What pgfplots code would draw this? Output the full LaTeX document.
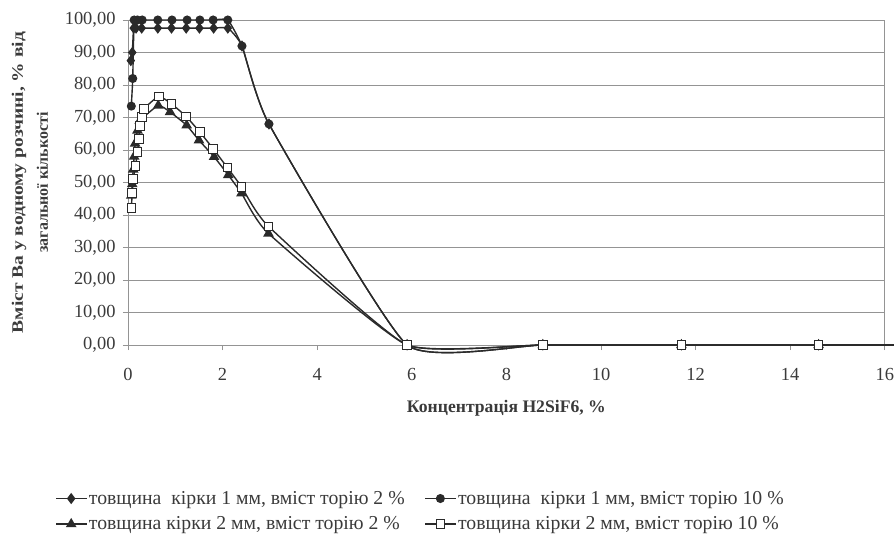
\documentclass[border=0pt]{standalone}
\usepackage{pgfplots}
\pgfplotsset{compat=1.18}
\usepackage{fontspec}
\setmainfont{Liberation Serif}
\definecolor{ink}{HTML}{2A2A2A}
\definecolor{gridc}{HTML}{949494}
\definecolor{txt}{HTML}{3A3A3A}
\begin{document}
\begin{tikzpicture}
\useasboundingbox (-128bp,-204bp) rectangle (766bp,345bp);
\begin{axis}[
  at={(0,0)}, anchor=origin,
  x=47.3bp, y=3.25bp,
  xmin=0, xmax=16, ymin=0, ymax=100,
  clip=false,
  axis line style={gridc, line width=0.9bp},
  xtick={0,2,...,16}, ytick={0,10,...,100},
  xtick pos=bottom, ytick pos=left,
  tick align=outside, major tick length=5bp,
  tick style={gridc, line width=0.8bp},
  ymajorgrids, grid style={gridc, line width=0.9bp},
  /pgf/number format/assume math mode=true,
  yticklabel style={/pgf/number format/.cd, fixed, fixed zerofill, precision=2, use comma, /tikz/.cd, xshift=-4bp},
  xticklabel style={/pgf/number format/.cd, fixed, precision=0, /tikz/.cd, yshift=-15bp},
  tick label style={font=\fontsize{18.5}{22}\selectfont, text=txt},
  xlabel={Концентрація H2SiF6, \%},
  xlabel style={at={(rel axis cs:0.5,0)}, anchor=center, yshift=-63bp, font=\bfseries\fontsize{17.7}{20}\selectfont, text=txt},
  ylabel={\scalebox{1.22}[1]{Вміст Ba у водному розчині, \% від}\\загальної кількості},
  ylabel style={at={(axis description cs:-0.1295,0.5)}, anchor=center, align=center, font=\bfseries\fontsize{16}{25}\selectfont, text=txt},
  legend columns=2,
  legend style={at={(rel axis cs:-0.1,-0.437)}, anchor=north west, draw=none, fill=none,
    font=\fontsize{19.8}{23}\selectfont, text=txt, row sep=7bp,
    /tikz/column 2/.style={column sep=18bp}},
  legend cell align=left,
  legend image code/.code={\draw[mark repeat=2,mark phase=2,#1] plot coordinates {(0bp,0bp) (15bp,0bp) (30bp,0bp)};},
  every axis plot/.append style={ink, line width=1.4bp, smooth, tension=0.28},
]
% товщина кірки 1 мм, вміст торію 2 %
\addplot[mark=diamond*, mark size=4.5bp, mark options={fill=ink, solid}] coordinates {
 (0.06,87.5) (0.09,90) (0.12,97.5) (0.17,97.5) (0.29,97.5) (0.63,97.5) (0.92,97.5) (1.23,97.5)
 (1.51,97.5) (1.81,97.5) (2.11,97.5) (2.41,92) (2.98,68) (5.9,0) (8.77,0) (11.7,0) (14.6,0)};
\addlegendentry{товщина \ кірки 1 мм, вміст торію 2 \%}
% товщина кірки 1 мм, вміст торію 10 %
\addplot[mark=*, mark size=3.8bp, mark options={fill=ink, solid}] coordinates {
 (0.07,73.5) (0.1,82) (0.13,100) (0.2,100) (0.3,100) (0.63,100) (0.93,100) (1.25,100)
 (1.52,100) (1.8,100) (2.11,100) (2.41,92) (2.98,68) (5.9,0) (8.77,0) (11.7,0) (14.6,0)};
\addlegendentry{товщина \ кірки 1 мм, вміст торію 10 \%}
% товщина кірки 2 мм, вміст торію 2 %
\addplot[mark=triangle*, mark size=4.8bp, mark options={fill=ink, solid}] coordinates {
 (0.07,46) (0.09,49.5) (0.11,54) (0.13,58) (0.15,62) (0.2,66) (0.25,69) (0.64,73.7) (0.89,71.7)
 (1.24,67.6) (1.5,63) (1.82,57.9) (2.12,52.3) (2.4,46.7) (2.97,34.3) (5.9,0) (8.77,0) (11.7,0) (14.6,0)};
\addlegendentry{товщина кірки 2 мм, вміст торію 2 \%}
% товщина кірки 2 мм, вміст торію 10 %
\addplot[mark=square*, mark size=4.3bp, mark options={fill=white, draw=ink, line width=1bp, solid}] coordinates {
 (0.07,42.1) (0.09,46.7) (0.11,51) (0.16,55.1) (0.2,59.4) (0.23,63.3) (0.25,67.3) (0.29,70.1) (0.34,72.7)
 (0.65,76.5) (0.92,74.2) (1.23,70.3) (1.52,65.5) (1.8,60.4) (2.1,54.6) (2.4,48.7) (2.97,36.5)
 (5.9,0) (8.77,0) (11.7,0) (14.6,0)};
\addlegendentry{товщина кірки 2 мм, вміст торію 10 \%}
% continuation of the common zero line to the right edge
\addplot[mark=none, sharp plot, forget plot] coordinates {(14.6,0) (16.2,0)};
\end{axis}
\end{tikzpicture}
\end{document}
